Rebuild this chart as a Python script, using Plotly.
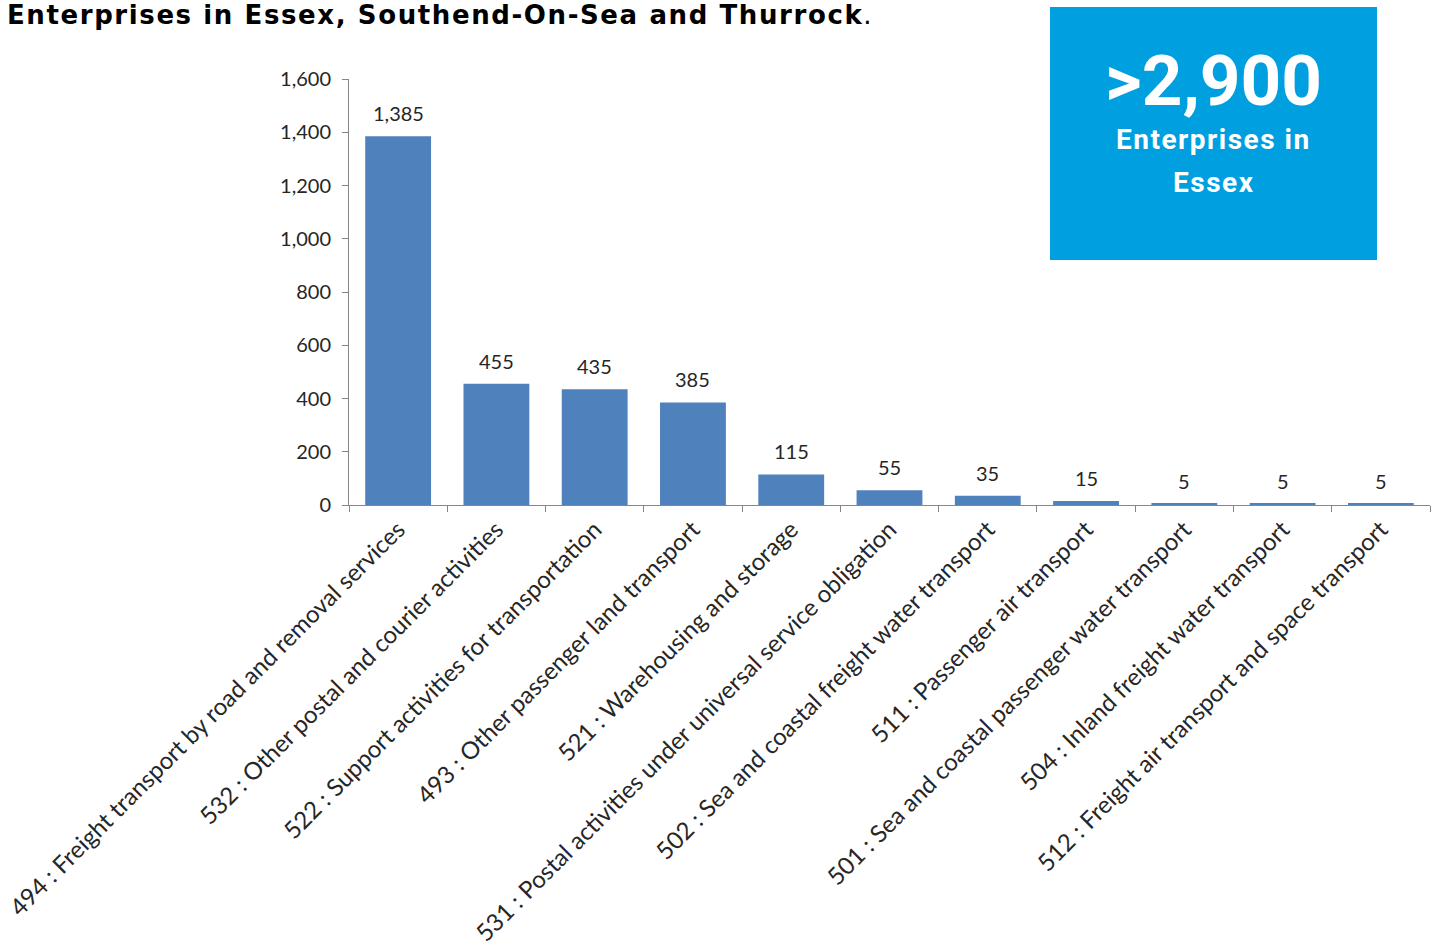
import plotly.graph_objects as go

categories = [
    "494 : Freight transport by road and removal services",
    "532 : Other postal and courier activities",
    "522 : Support activities for transportation",
    "493 : Other passenger land transport",
    "521 : Warehousing and storage",
    "531 : Postal activities under universal service obligation",
    "502 : Sea and coastal freight water transport",
    "511 : Passenger air transport",
    "501 : Sea and coastal passenger water transport",
    "504 : Inland freight water transport",
    "512 : Freight air transport and space transport",
]
values = [1385, 455, 435, 385, 115, 55, 35, 15, 5, 5, 5]
y_ticks = [0, 200, 400, 600, 800, 1000, 1200, 1400, 1600]

title_text = "Enterprises in Essex, Southend-On-Sea and Thurrock"
box_big = ">2,900"
box_lines = ["Enterprises in", "Essex"]

W, H = 1439, 947
L, R, T, B = 349, 9, 79, 442
pw = W - L - R
ph = H - T - B

def px(x):
    return (x - L) / pw

def py(y):
    return (H - B - y) / ph

fig = go.Figure()
fig.add_trace(go.Bar(
    x=categories, y=values, marker=dict(color="#4F81BD", line=dict(width=0)),
    width=0.67, hoverinfo="x+y",
))

annotations = []
for c, v in zip(categories, values):
    annotations.append(dict(
        x=c, y=v, xref="x", yref="y", text=f"{v:,}", showarrow=False,
        yanchor="bottom", yshift=9,
        font=dict(family="Lato", size=20, color="#262626"),
    ))

annotations.append(dict(
    x=px(6), y=py(-1), xref="paper", yref="paper", xanchor="left", yanchor="top",
    text=f"<span style='letter-spacing:1.6px'><b>{title_text}</b>.</span>", showarrow=False,
    font=dict(family="DejaVu Sans", size=26, color="#000000"), borderpad=0,
))
annotations.append(dict(
    x=px(1213), y=py(80), xref="paper", yref="paper", xanchor="center", yanchor="middle",
    text=f"<b>{box_big}</b>", showarrow=False,
    font=dict(family="Roboto", size=71, color="#FFFFFF"),
))
for txt, yy in zip(box_lines, [140, 182]):
    annotations.append(dict(
        x=px(1213), y=py(yy), xref="paper", yref="paper", xanchor="center", yanchor="middle",
        text=f"<span style='letter-spacing:1.5px'><b>{txt}</b></span>", showarrow=False,
        font=dict(family="Roboto", size=28, color="#FFFFFF"),
    ))

fig.update_layout(
    width=W, height=H,
    margin=dict(l=L, r=R, t=T, b=B, pad=0, autoexpand=False),
    paper_bgcolor="white", plot_bgcolor="white",
    showlegend=False,
    annotations=annotations,
    shapes=[dict(
        type="rect", xref="paper", yref="paper",
        x0=px(1050), x1=px(1377), y0=py(260), y1=py(7),
        fillcolor="#009FDF", line=dict(width=0), layer="above",
    )],
)
fig.update_xaxes(
    range=[-0.5, len(categories) - 0.5], automargin=False,
    showline=True, linecolor="#868686", linewidth=1,
    ticks="outside", tickson="boundaries", ticklen=6, tickcolor="#868686",
    tickangle=-45, showgrid=False,
    tickfont=dict(family="Lato", size=24, color="#262626"),
)
fig.update_yaxes(
    range=[0, 1600], tickvals=y_ticks, tickformat=",", automargin=False,
    showline=True, linecolor="#868686", linewidth=1,
    ticks="outside", ticklen=6, tickcolor="#868686",
    ticklabelstandoff=7,
    showgrid=False, zeroline=False,
    tickfont=dict(family="Lato", size=20, color="#262626"),
)

fig.write_html("out.html")
